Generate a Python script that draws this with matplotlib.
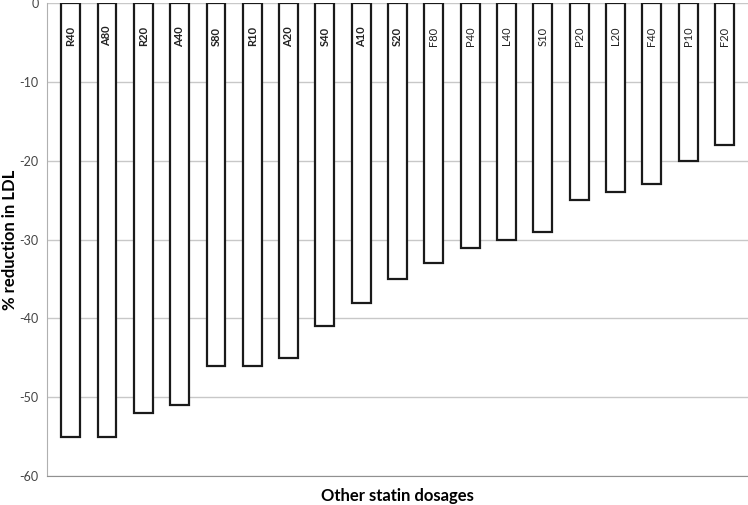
import matplotlib
matplotlib.use("Agg")
import matplotlib.pyplot as plt

# statin dosages and their LDL reduction (%)
labels = ["R40", "A80", "R20", "A40", "S80", "R10", "A20", "S40", "A10", "S20",
          "F80", "P40", "L40", "S10", "P20", "L20", "F40", "P10", "F20"]
reduction = [-55, -55, -52, -51, -46, -46, -45, -41, -38, -35,
             -33, -31, -30, -29, -25, -24, -23, -20, -18]
bold_labels = labels[:10]
yticks = [0, -10, -20, -30, -40, -50, -60]

plt.rcParams["font.family"] = ["Lato", "DejaVu Sans"]
fig = plt.figure(figsize=(7.48, 5.05), dpi=100)
ax = fig.add_axes([0.063, 0.057, 0.937, 0.937])

x = range(len(labels))
ax.bar(x, reduction, width=0.52, color="white", edgecolor="#1a1a1a", linewidth=1.6, zorder=3)
for i, lab in enumerate(labels):
    ax.text(i, -4.2, lab, rotation=90, ha="center", va="center", fontsize=8,
            fontweight="bold" if lab in bold_labels else "normal", color="#222", zorder=4)

ax.set_ylim(-60, 0)
ax.set_xlim(-0.65, len(labels) - 0.35)
ax.set_yticks(yticks)
ax.set_yticklabels([str(v) for v in yticks], fontsize=9, color="#444")
ax.yaxis.grid(True, color="#c8c8c8", lw=1, zorder=0)
ax.set_xticks([])
ax.tick_params(axis="y", length=0, pad=6)
for s in ["top", "right"]:
    ax.spines[s].set_visible(False)
ax.spines["left"].set_color("#b0b0b0")
ax.spines["bottom"].set_color("#909090")
ax.spines["bottom"].set_position(("data", -60))

ax.set_ylabel("% reduction in LDL", fontsize=12, fontweight="bold")
ax.yaxis.set_label_coords(-0.042, 0.5)
ax.set_xlabel("Other statin dosages", fontsize=12, fontweight="bold")
ax.xaxis.set_label_coords(0.5, -0.025)

plt.savefig("out.png", dpi=100)
